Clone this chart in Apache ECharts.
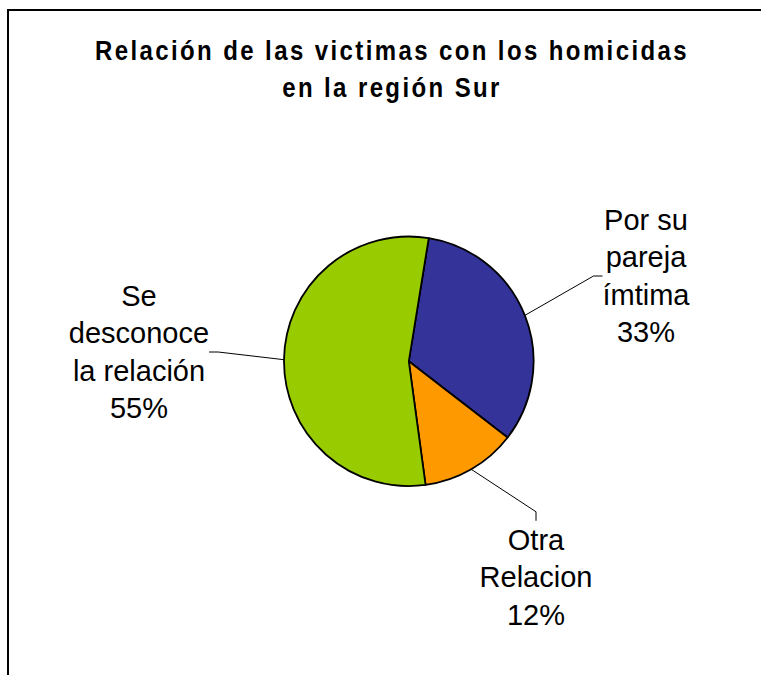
<!DOCTYPE html>
<html>
<head>
<meta charset="utf-8">
<script src="https://cdn.jsdelivr.net/npm/echarts@6/dist/echarts.min.js"></script>
<style>
  html, body { margin: 0; padding: 0; background: #fff; }
  #chart { width: 761px; height: 675px; }
  #chart svg text[style*="bold"], #chart svg text[font-weight="bold"] { letter-spacing: 2.4px; }
</style>
</head>
<body>
<div id="chart"></div>
<script>
// ---- data ----
var titleText = 'Relación de las victimas con los homicidas\nen la región Sur';
var categories = ['Por su\npareja\nímtima', 'Otra\nRelacion', 'Se\ndesconoce\nla relación'];
var values = [32.9, 12.4, 54.7];
var colors = ['#333399', '#FF9900', '#99CC00'];

// label anchor positions (layout only)
var labelPos = [[646, 276], [536, 577], [139, 352]];

var chart = echarts.init(document.getElementById('chart'), null, { renderer: 'svg' });

var seriesData = categories.map(function (name, i) {
  return { name: name, value: values[i], itemStyle: { color: colors[i] } };
});

chart.setOption({
  backgroundColor: '#ffffff',
  animation: false,
  graphic: [
    {
      type: 'rect',
      shape: { x: 8, y: 10, width: 900, height: 900 },
      style: { fill: 'none', stroke: '#000000', lineWidth: 2 },
      silent: true
    },
    {
      type: 'text',
      x: 392,
      y: 68.5,
      scaleY: 1.18,
      style: {
        text: titleText,
        align: 'center',
        verticalAlign: 'middle',
        fontFamily: 'Arial, "Liberation Sans", sans-serif',
        fontWeight: 'bold',
        fontSize: 24,
        lineHeight: 31.5,
        fill: '#000000'
      }
    }
  ],
  series: [
    {
      type: 'pie',
      center: [408.8, 361.3],
      radius: 124.8,
      startAngle: 80.8,
      clockwise: true,
      avoidLabelOverlap: false,
      data: seriesData,
      itemStyle: { borderColor: '#000000', borderWidth: 1.8 },
      label: {
        show: true,
        position: 'outside',
        formatter: function (p) { return p.name + '\n' + Math.round(p.percent) + '%'; },
        fontFamily: 'Arial, "Liberation Sans", sans-serif',
        fontSize: 29,
        lineHeight: 37.5,
        color: '#000000'
      },
      labelLine: {
        show: true,
        length: 20,
        length2: 9,
        smooth: false,
        minTurnAngle: 90,
        lineStyle: { color: '#000000', width: 1 }
      },
      labelLayout: function (params) {
        var pos = labelPos[params.dataIndex];
        return { x: pos[0], y: pos[1], align: 'center', verticalAlign: 'middle' };
      },
      emphasis: { disabled: true }
    }
  ]
});
</script>
</body>
</html>
